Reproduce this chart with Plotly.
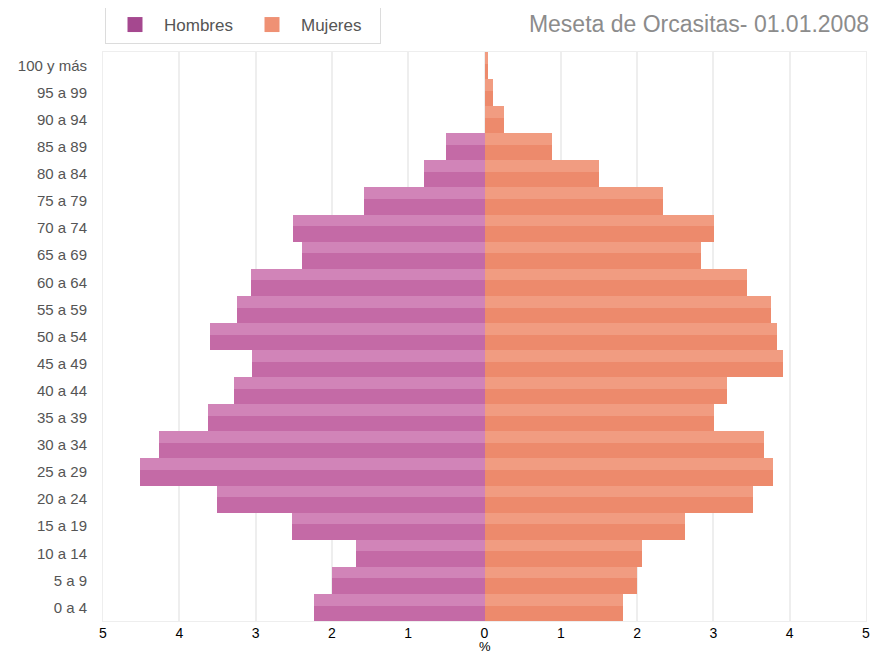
import plotly.graph_objects as go

# Age groups, bottom to top
age_groups = ["0 a 4", "5 a 9", "10 a 14", "15 a 19", "20 a 24", "25 a 29", "30 a 34",
              "35 a 39", "40 a 44", "45 a 49", "50 a 54", "55 a 59", "60 a 64", "65 a 69",
              "70 a 74", "75 a 79", "80 a 84", "85 a 89", "90 a 94", "95 a 99", "100 y más"]

# Percentages (%)
hombres = [2.23, 2.00, 1.68, 2.52, 3.51, 4.51, 4.27, 3.63, 3.28, 3.05, 3.60, 3.24, 3.06,
           2.39, 2.51, 1.58, 0.79, 0.51, 0.0, 0.0, 0.0]
mujeres = [1.82, 2.00, 2.07, 2.63, 3.52, 3.78, 3.66, 3.01, 3.18, 3.91, 3.83, 3.76, 3.44,
           2.84, 3.01, 2.34, 1.50, 0.89, 0.25, 0.11, 0.04]

x_ticks = [-5, -4, -3, -2, -1, 0, 1, 2, 3, 4, 5]
x_tick_labels = ["5", "4", "3", "2", "1", "0", "1", "2", "3", "4", "5"]

positions = list(range(len(age_groups)))
neg_hombres = [-v for v in hombres]

FONT = "Liberation Sans, Arial, sans-serif"
W, H = 862, 648  # page body adds an 8px margin on each side
M_L, M_R, M_T, M_B = 95, 4, 44, 35
PLOT_H = H - M_T - M_B

fig = go.Figure()

# Men: front face (darker, lower part) and top face (lighter, upper part)
fig.add_trace(go.Bar(y=positions, x=neg_hombres, orientation="h", offset=-0.5, width=0.57,
                     marker=dict(color="#c46aa6", line=dict(width=0)), showlegend=False,
                     hoverinfo="skip"))
fig.add_trace(go.Bar(y=positions, x=neg_hombres, orientation="h", offset=0.07, width=0.43,
                     marker=dict(color="#d184b8", line=dict(width=0)), showlegend=False,
                     hoverinfo="skip"))
# Women
fig.add_trace(go.Bar(y=positions, x=mujeres, orientation="h", offset=-0.5, width=0.57,
                     marker=dict(color="#ed8a6c", line=dict(width=0)), showlegend=False,
                     hoverinfo="skip"))
fig.add_trace(go.Bar(y=positions, x=mujeres, orientation="h", offset=0.07, width=0.43,
                     marker=dict(color="#f19c81", line=dict(width=0)), showlegend=False,
                     hoverinfo="skip"))

# Legend entries
fig.add_trace(go.Scatter(x=[None], y=[None], mode="markers", name="Hombres",
                         marker=dict(symbol="square", size=15, color="#a5488f")))
fig.add_trace(go.Scatter(x=[None], y=[None], mode="markers", name="Mujeres",
                         marker=dict(symbol="square", size=15, color="#ef9174")))

fig.update_layout(
    width=W, height=H,
    margin=dict(l=M_L, r=M_R, t=M_T, b=M_B),
    paper_bgcolor="white", plot_bgcolor="white",
    barmode="overlay", bargap=0,
    font=dict(family=FONT, color="#555555"),
    title=dict(text="Meseta de Orcasitas- 01.01.2008", xref="container", x=(W - 1) / W,
               xanchor="right", yref="container", y=1 - 16 / H, yanchor="middle",
               font=dict(family=FONT, size=23, color="#8c8c8c")),
    legend=dict(orientation="h", xref="container", x=97 / W, yref="container",
                y=1 - 17 / H, xanchor="left", yanchor="middle",
                bordercolor="#dcdcdc", borderwidth=1, bgcolor="white",
                font=dict(family=FONT, size=17, color="#555555"),
                itemsizing="trace", itemwidth=48, entrywidth=74),
    xaxis=dict(range=[-5, 5], tickvals=x_ticks, ticktext=x_tick_labels,
               tickfont=dict(family=FONT, size=14, color="#000000"),
               showgrid=True, gridcolor="#eeeeee", gridwidth=2, zeroline=False,
               showline=True, linecolor="#eeeeee", linewidth=1, mirror=True,
               ticks="", ticklabelstandoff=-1, fixedrange=True, automargin=False,
               ticklabeloverflow="allow"),
    yaxis=dict(range=[-0.5, 20.5], tickvals=positions, ticktext=age_groups,
               tickfont=dict(family=FONT, size=15, color="#555555"),
               showgrid=False, zeroline=False, showline=True, linecolor="#eeeeee",
               mirror=True, ticks="", ticklabelstandoff=12, fixedrange=True,
               automargin=False),
    annotations=[dict(text="%", x=0, xref="x", y=-M_B / PLOT_H, yref="paper",
                      xanchor="center", yanchor="bottom", showarrow=False,
                      font=dict(family=FONT, size=13, color="#000000"))],
)

fig.write_html("out.html")
